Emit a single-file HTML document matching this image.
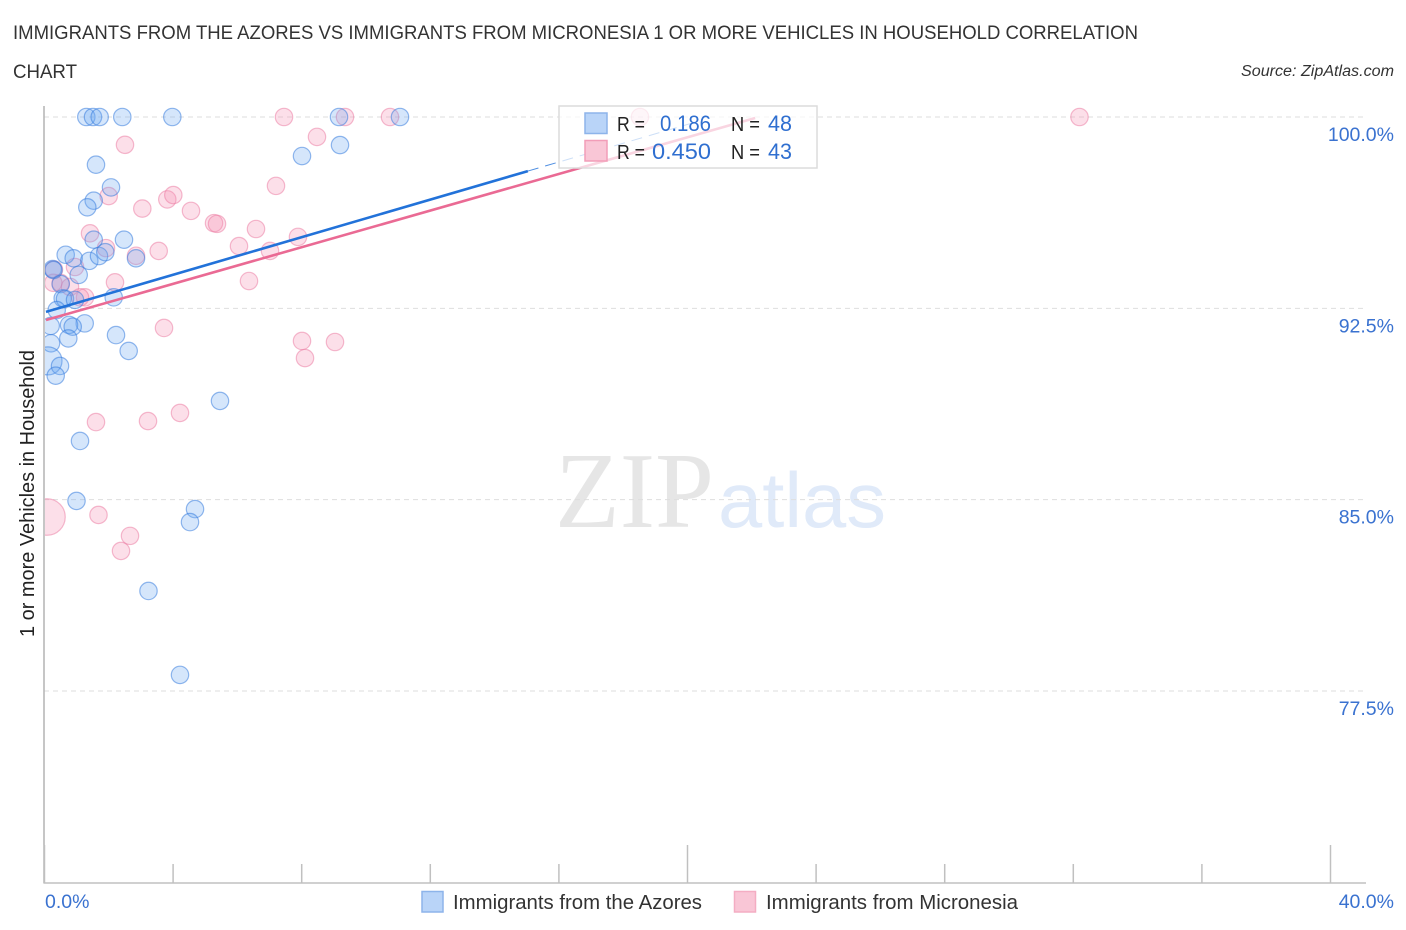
<!DOCTYPE html>
<html lang="en">
<head>
<meta charset="utf-8">
<title>Immigrants from the Azores vs Immigrants from Micronesia correlation chart</title>
<style>
html,body{margin:0;padding:0;background:#fff;}
svg{display:block;font-family:"Liberation Sans",sans-serif;}
#points-blur{filter:blur(0.35px);}
</style>
</head>
<body>
<svg id="chart" xmlns="http://www.w3.org/2000/svg" width="1406" height="930" viewBox="0 0 1406 930">
  <defs>
    <clipPath id="plot-clip"><rect x="45" y="100" width="1330" height="783"/></clipPath>
  </defs>
  <rect x="0" y="0" width="1406" height="930" fill="#ffffff"/>

  <text x="13" y="39" font-size="19" fill="#333" textLength="1125" lengthAdjust="spacingAndGlyphs">IMMIGRANTS FROM THE AZORES VS IMMIGRANTS FROM MICRONESIA 1 OR MORE VEHICLES IN HOUSEHOLD CORRELATION</text>
  <text x="13" y="78" font-size="19" fill="#333" textLength="64" lengthAdjust="spacingAndGlyphs">CHART</text>
  <text x="1241" y="76" font-size="15.5" font-style="italic" fill="#333" textLength="153" lengthAdjust="spacingAndGlyphs">Source: ZipAtlas.com</text>

  <g>
    <text x="555" y="527" font-family="'Liberation Serif',serif" font-size="108" fill="#e6e6e6" textLength="159" lengthAdjust="spacingAndGlyphs">ZIP</text>
    <text x="718" y="527" font-family="'Liberation Sans',sans-serif" font-size="78" fill="#e0eaf9" textLength="168" lengthAdjust="spacingAndGlyphs">atlas</text>
  </g>

  <g id="grid"></g>
  <g id="axes"></g>
  <text transform="translate(34,637) rotate(-90)" font-size="20" fill="#222" textLength="287" lengthAdjust="spacingAndGlyphs">1 or more Vehicles in Household</text>

  <g id="points-blur"><g id="points" clip-path="url(#plot-clip)"></g></g>
  <g id="trends"></g>

  <g>
    <rect x="559" y="106" width="258" height="62" fill="#ffffff" fill-opacity="0.72" stroke="#dcdcdc" stroke-width="1.5"/>
    <rect x="585" y="113" width="22" height="20.5" fill="#b9d4f8" stroke="#8db4ea" stroke-width="1.5"/>
    <rect x="585" y="140.5" width="22" height="20.5" fill="#f9c6d6" stroke="#f29db8" stroke-width="1.5"/>
    <text x="617" y="131" font-size="20" fill="#222" textLength="28" lengthAdjust="spacingAndGlyphs">R =</text>
    <text x="660" y="131" font-size="22" fill="#2f6fd0" textLength="51" lengthAdjust="spacingAndGlyphs">0.186</text>
    <text x="731" y="131" font-size="20" fill="#222" textLength="29" lengthAdjust="spacingAndGlyphs">N =</text>
    <text x="768" y="131" font-size="22" fill="#2f6fd0" textLength="24" lengthAdjust="spacingAndGlyphs">48</text>
    <text x="617" y="159" font-size="20" fill="#222" textLength="28" lengthAdjust="spacingAndGlyphs">R =</text>
    <text x="652" y="159" font-size="22" fill="#2f6fd0" textLength="59" lengthAdjust="spacingAndGlyphs">0.450</text>
    <text x="731" y="159" font-size="20" fill="#222" textLength="29" lengthAdjust="spacingAndGlyphs">N =</text>
    <text x="768" y="159" font-size="22" fill="#2f6fd0" textLength="24" lengthAdjust="spacingAndGlyphs">43</text>
  </g>

  <g>
    <rect x="422" y="891.5" width="21" height="20.5" fill="#b9d4f8" stroke="#8db4ea" stroke-width="1.5"/>
    <text x="453" y="909" font-size="20" fill="#333" textLength="249" lengthAdjust="spacingAndGlyphs">Immigrants from the Azores</text>
    <rect x="734.5" y="891.5" width="21" height="20.5" fill="#f9c6d6" stroke="#f4adc3" stroke-width="1.5"/>
    <text x="766" y="909" font-size="20" fill="#333" textLength="252" lengthAdjust="spacingAndGlyphs">Immigrants from Micronesia</text>
  </g>
</svg>
<script>
const yTickValues = [100, 92.5, 85, 77.5];
const yTickLabels = ["100.0%", "92.5%", "85.0%", "77.5%"];
const xTickValues = [0, 4, 8, 12, 16, 20, 24, 28, 32, 36, 40];
const xMajorTicks = [0, 20, 40];
const xEndValues = [0, 40];
const xEndLabels = ["0.0%", "40.0%"];

const azoresX = [1.316,1.524,1.732,2.435,3.991,9.176,11.073,8.025,9.207,1.617,2.084,1.546,1.347,2.488,1.546,0.675,0.924,1.409,1.711,1.907,2.862,0.271,0.295,1.079,0.519,2.168,0.582,0.653,0.964,0.395,1.266,0.778,0.893,0.208,0.756,2.240,2.634,0.218,0.124,0.498,0.364,5.474,1.120,1.011,4.697,4.541,3.250,4.230];
const azoresY = [100,100,100,100,100,100,100,98.47,98.90,98.13,97.24,96.72,96.46,95.19,95.19,94.60,94.46,94.36,94.55,94.70,94.46,94.04,94.00,93.81,93.45,92.93,92.89,92.87,92.83,92.43,91.91,91.85,91.78,91.81,91.32,91.45,90.83,91.13,90.44,90.24,89.86,88.87,87.30,84.95,84.63,84.12,81.42,78.13];
const azoresWeight = [1,1,1,1,1,1,1,1,1,1,1,1,1,1,1,1,1,1,1,1,1,1,1,1,1,1,1,1,1,1,1,1,1,1,1,1,1,1,2.6,1,1,1,1,1,1,1,1,1];

const micronesiaX = [7.465,9.362,10.762,18.538,32.208,8.491,2.519,7.216,2.012,3.058,3.835,4.022,4.572,5.288,5.381,6.594,1.431,7.900,6.065,3.568,1.928,2.862,7.030,0.964,0.311,6.376,2.208,0.519,0.289,0.809,1.275,1.120,3.733,8.025,9.051,8.118,1.617,3.235,4.230,1.695,2.675,2.395,0.093];
const micronesiaY = [100,100,100,100,100,99.22,98.91,97.30,96.90,96.41,96.77,96.94,96.32,95.84,95.81,95.61,95.44,95.30,94.94,94.75,94.86,94.56,94.75,94.12,94.02,93.57,93.52,93.49,93.50,93.34,92.93,92.93,91.73,91.22,91.18,90.55,88.04,88.08,88.40,84.40,83.58,82.99,84.32];
const micronesiaWeight = [1,1,1,1,1,1,1,1,1,1,1,1,1,1,1,1,1,1,1,1,1,1,1,1,1,1,1,1,1,1,1,1,1,1,1,1,1,1,1,1,1,1,4.4];

const azoresTrendX = [0.062, 15.05, 20.4];
const azoresTrendY = [92.36, 97.88, 99.85];
const micronesiaTrendX = [0.062, 22.12];
const micronesiaTrendY = [92.04, 99.96];

const NS = "http://www.w3.org/2000/svg";
function xScale(v){ return 44 + v * 32.15; }
function yScale(v){ return 117 + (100 - v) * 25.51; }
function make(parent, tag, attrs){
  const el = document.createElementNS(NS, tag);
  for (const k in attrs) el.setAttribute(k, attrs[k]);
  parent.appendChild(el);
  return el;
}

const gridG = document.getElementById("grid");
const axesG = document.getElementById("axes");
const pointsG = document.getElementById("points");
const trendsG = document.getElementById("trends");

yTickValues.forEach(function(v, i){
  const line = make(gridG, "line", {x1: 44, x2: 1366, y1: yScale(v), y2: yScale(v), stroke: "#dedede", "stroke-width": 1, "stroke-dasharray": "5 4"});
  
  
  const label = make(axesG, "text", {x: 1394, y: yScale(v) + 24, "text-anchor": "end", "font-size": 19.5, fill: "#3a72d0"});
  label.textContent = yTickLabels[i];
  
  
});

const yAxisLine = make(axesG, "line", {x1: 44, x2: 44, y1: 106, y2: 883.5, stroke: "#b4b4b4", "stroke-width": 1.5});


const xAxisLine = make(axesG, "line", {x1: 44, x2: 1366, y1: 883, y2: 883, stroke: "#c0c0c0", "stroke-width": 1.5});



xTickValues.forEach(function(v){
  const top = xMajorTicks.indexOf(v) >= 0 ? 845 : 864;
  const tick = make(axesG, "line", {x1: xScale(v) + 0.5, x2: xScale(v) + 0.5, y1: top, y2: 883, stroke: "#c0c0c0", "stroke-width": 1.5});
  
  
});

xEndValues.forEach(function(v, i){
  const anchor = i === 0 ? "start" : "end";
  const px = i === 0 ? xScale(v) + 1 : xScale(v) + 64;
  const label = make(axesG, "text", {x: px, y: 908, "text-anchor": anchor, "font-size": 19.5, fill: "#3a72d0"});
  label.textContent = xEndLabels[i];
  
  
});

function drawSeries(xs, ys, ws, fill, stroke, name){
  xs.forEach(function(x, i){
    const c = make(pointsG, "circle", {cx: xScale(x), cy: yScale(ys[i]), r: 8.7 * Math.sqrt(ws[i]), fill: fill, stroke: stroke, "stroke-width": 1.2});
    
    
  });
}
drawSeries(micronesiaX, micronesiaY, micronesiaWeight, "rgba(243,140,175,0.28)", "rgba(236,120,160,0.5)", "micronesia-point");
drawSeries(azoresX, azoresY, azoresWeight, "rgba(105,165,240,0.28)", "rgba(50,120,220,0.52)", "azores-point");

const azoresSolid = make(trendsG, "line", {x1: xScale(azoresTrendX[0]), y1: yScale(azoresTrendY[0]), x2: xScale(azoresTrendX[1]), y2: yScale(azoresTrendY[1]), stroke: "#2272d9", "stroke-width": 2.6});


const azoresDash = make(trendsG, "line", {x1: xScale(azoresTrendX[1]), y1: yScale(azoresTrendY[1]), x2: xScale(azoresTrendX[2]), y2: yScale(azoresTrendY[2]), stroke: "#2272d9", "stroke-width": 1, "stroke-opacity": 0.8, "stroke-dasharray": "11 7"});


const microTrend = make(trendsG, "line", {x1: xScale(micronesiaTrendX[0]), y1: yScale(micronesiaTrendY[0]), x2: xScale(micronesiaTrendX[1]), y2: yScale(micronesiaTrendY[1]), stroke: "#ea6a94", "stroke-width": 2.6});


</script>
</body>
</html>
